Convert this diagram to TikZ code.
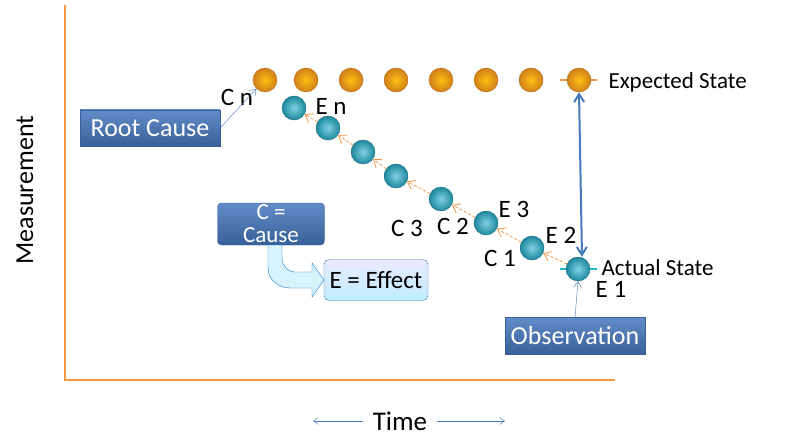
\documentclass[tikz,border=0pt]{standalone}
\usepackage{fontspec}
\setmainfont{Carlito}
\usetikzlibrary{arrows.meta,shadings}
\definecolor{ax}{RGB}{245,150,70}
\definecolor{bb}{RGB}{70,120,190}
\definecolor{orn}{RGB}{248,150,30}
\definecolor{cyb}{RGB}{40,180,210}
\begin{document}
\begin{tikzpicture}[x=1pt,y=-1pt,
  ob/.style={circle,minimum size=24pt,inner sep=0,draw=orn!70!black,line width=0.4pt,inner color=orn!60!yellow,outer color=orn!85!black},
  bl/.style={circle,minimum size=24pt,inner sep=0,draw=cyb!60!black,line width=0.4pt,inner color=cyb!60!white,outer color=cyb!75!black},
  lab/.style={font=\fontsize{25}{27}\selectfont},
  dbox/.style={draw=bb!80!black,top color=bb!85!white,bottom color=bb!80!black,text=white,font=\fontsize{26}{28}\selectfont},
  ca/.style={densely dashed,draw=ax,line width=0.8pt,-{Straight Barb[length=7pt,width=10pt]}}]
\useasboundingbox (0,0) rectangle (800,441);
\coordinate (o) at (65,380); \coordinate (yt) at (65,5); \coordinate (xt) at (615,380);
\draw[ax,line width=2.5pt] (yt) -- (o) -- (xt);
\draw[ax,line width=2pt] (560,80) -- (597,80);
\draw[cyb,line width=2pt] (560,269) -- (597,269);
\foreach \x [count=\i] in {265,306,351,396,441,486,531,579} \node[ob] (o\i) at (\x,80) {};
\foreach \x/\y [count=\i] in {578/269,532/248,486/223,441/199,396/176,363/152,328/128,294/108} \node[bl] (b\i) at (\x,\y) {};
\foreach \i/\j in {1/2,2/3,3/4,4/5,5/6,6/7,7/8} \draw[ca] (b\i) -- (b\j);
\node[lab] at (237,97) {C n};
\node[lab] at (331,106) {E n};
\node[lab] at (407,228) {C 3};
\node[lab] at (453,226) {C 2};
\node[lab] at (514,209) {E 3};
\node[lab] at (500,258) {C 1};
\node[lab] at (561,235) {E 2};
\node[lab] at (611,289) {E 1};
\node[anchor=west,font=\fontsize{23}{25}\selectfont] (as) at (598,268) {Actual State};
\node[anchor=west,font=\fontsize{23}{25}\selectfont] (es) at (605,82) {Expected State};
\draw[bb,line width=2pt,{Straight Barb[length=8pt,width=10pt]}-{Straight Barb[length=8pt,width=10pt]}] (o8.south) -- ([xshift=4pt]b1.north);
\node[dbox,minimum width=140pt,minimum height=36pt] (rc) at (150,128) {Root Cause};
\draw[bb,-{Straight Barb[length=6pt,width=8pt]}] (rc.east) -- (o1.south west);
\node[dbox,minimum width=140pt,minimum height=37pt] (obs) at (575,336) {Observation};
\draw[bb,-{Straight Barb[length=6pt,width=8pt]}] (obs.north) -- (b1.south);
\node[dbox,rounded corners=4pt,minimum width=107pt,minimum height=42pt,align=center,inner sep=0pt,font=\fontsize{23}{23}\selectfont] (cc) at (271,224) {C =\\Cause};
\fill[cyan!15,draw=cyan!60!blue] (268,245) -- (268,268) to[out=-90,in=180] (290,288) -- (312,288) -- (312,297) -- (324,280) -- (312,263) -- (312,272) -- (295,272) to[out=180,in=-90] (282,258) -- (282,245) -- cycle;
\node[draw=bb,rounded corners=5pt,top color=blue!8,bottom color=blue!30!cyan!25,minimum width=104pt,minimum height=41pt,font=\fontsize{25}{27}\selectfont] (ee) at (376,280) {E = Effect};
\node[font=\fontsize{26}{28}\selectfont,rotate=90] at (25,190) {Measurement};
\node[font=\fontsize{27}{29}\selectfont] (t) at (400,421) {Time};
\draw[bb,-{Straight Barb[length=5pt,width=7pt]}] (t.west) ++(-6,0) -- (313,421);
\draw[bb,-{Straight Barb[length=5pt,width=7pt]}] (t.east) ++(6,0) -- (505,421);
\end{tikzpicture}
\end{document}
